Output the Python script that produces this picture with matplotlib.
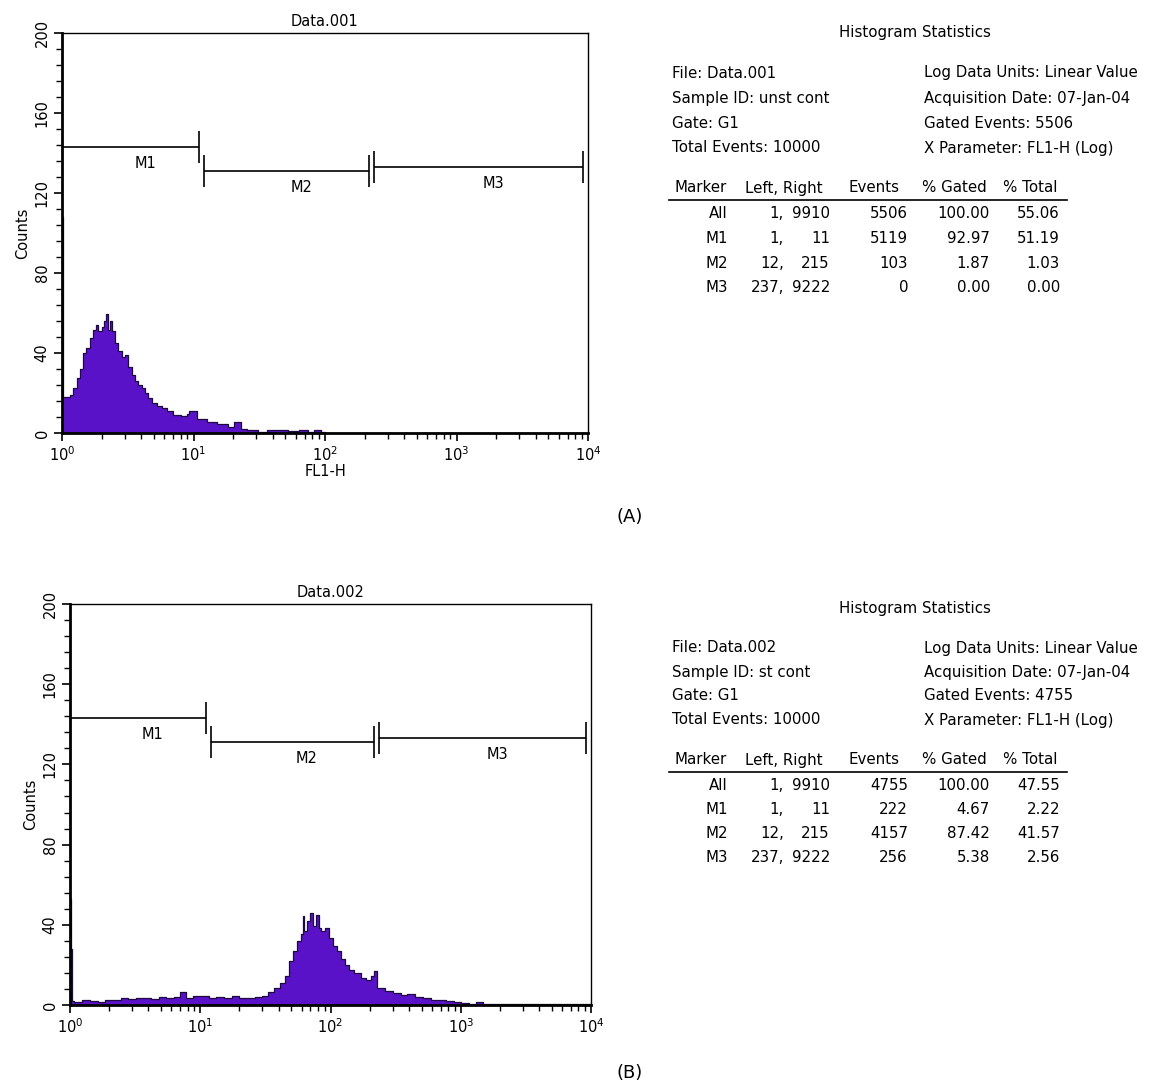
import numpy as np
import matplotlib
matplotlib.use("Agg")
import matplotlib.pyplot as plt
from matplotlib.ticker import MultipleLocator, LogLocator, LogFormatterMathtext, NullFormatter

plt.rcParams['font.family'] = ['DejaVu Sans']
plt.rcParams['mathtext.default'] = 'regular'

# ---- histogram A (unst cont), FL1-H values and counts ----
fl1_a = [1.0, 1.02, 1.05, 1.15, 1.22, 1.29, 1.37, 1.45, 1.52, 1.63, 1.73, 1.82, 1.89,
         2.00, 2.08, 2.16, 2.22, 2.32, 2.42, 2.53, 2.68, 2.84, 3.01, 3.19, 3.39, 3.59,
         3.80, 4.04, 4.28, 4.53, 4.81, 5.25, 5.73, 6.25, 7.01, 8.0, 8.89, 9.3, 10.7,
         12.6, 15.1, 18.2, 20.4, 22.9, 25.7, 30.9, 36.3, 43.7, 52.5, 63.1, 74.1, 83.2,
         93.3, 100, 10000]
counts_a = [108, 18, 18, 19, 22.5, 27.5, 32, 40, 42.5, 47.5, 51.7, 54, 51,
            53, 56, 59.7, 51.7, 56, 51, 45, 41, 38, 39, 33, 29, 26,
            24, 22.5, 20, 17.5, 15, 13.3, 12.5, 11, 9, 8.5, 9.7, 11, 7,
            5.5, 4.3, 3, 5.5, 2.2, 1.3, 0.5, 1.7, 1.3, 1, 1.3, 0.5, 1.7,
            0.3, 0, 0]

# ---- histogram B (st cont) ----
fl1_b = [1.0, 1.015, 1.03, 1.08, 1.24, 1.42, 1.63, 1.86, 2.14, 2.45, 2.80, 3.21, 3.67,
         4.21, 4.79, 5.50, 6.31, 6.98, 7.73, 8.85, 10.1, 11.6, 13.3, 15.1, 17.4, 20.0,
         22.9, 26.3, 29.9, 33.1, 36.7, 40.7, 45.0, 47.9, 51.3, 55.0, 58.9, 61.0, 63.1,
         66.1, 69.8, 73.3, 77.6, 81.3, 85.1, 91.2, 97.7, 105, 112, 120, 129, 138, 151,
         170, 186, 204, 214, 229, 263, 302, 347, 389, 447, 513, 589, 676, 776, 891,
         1000, 1148, 1318, 1479, 10000]
counts_b = [53, 28, 2, 1.7, 2.5, 2, 1.7, 2.3, 2.7, 3.4, 3, 3.4, 3.7,
            3, 4, 3.4, 4, 6.4, 3.4, 4.4, 4.7, 3.4, 4, 3.4, 4.4, 3.7,
            3.4, 4.2, 4.7, 6.7, 8.7, 10.9, 14.3, 21.8, 26.8, 31.9, 35.6, 44.5, 36.9,
            42, 46, 39.4, 45, 38.6, 36.9, 38.6, 33.6, 29.4, 26.8, 22.7, 20, 17.6, 16,
            13.4, 12.6, 14.3, 16.8, 8.4, 7, 5.9, 5, 5.4, 4.2, 3.4, 2.7, 2.3, 2, 1.7,
            1, 0.7, 1.7, 0.3, 0]

# ---- markers ----
marker_names = ['M1', 'M2', 'M3']
marker_left = [1, 12, 237]
marker_right = [11, 215, 9222]
marker_level = [143, 131, 133]

# ---- statistics tables ----
stat_headers = ['Marker', 'Left, Right', 'Events', '% Gated', '% Total']
row_names = ['All', 'M1', 'M2', 'M3']
row_left = ['1,', '1,', '12,', '237,']
row_right = ['9910', '11', '215', '9222']
events_a = ['5506', '5119', '103', '0']
gated_a = ['100.00', '92.97', '1.87', '0.00']
total_a = ['55.06', '51.19', '1.03', '0.00']
events_b = ['4755', '222', '4157', '256']
gated_b = ['100.00', '4.67', '87.42', '5.38']
total_b = ['47.55', '2.22', '41.57', '2.56']

info_a = [('File: Data.001', 'Log Data Units: Linear Value'),
          ('Sample ID: unst cont', 'Acquisition Date: 07-Jan-04'),
          ('Gate: G1', 'Gated Events: 5506'),
          ('Total Events: 10000', 'X Parameter: FL1-H (Log)')]
info_b = [('File: Data.002', 'Log Data Units: Linear Value'),
          ('Sample ID: st cont', 'Acquisition Date: 07-Jan-04'),
          ('Gate: G1', 'Gated Events: 4755'),
          ('Total Events: 10000', 'X Parameter: FL1-H (Log)')]

W, H = 1153, 1090
fig = plt.figure(figsize=(W / 100, H / 100), dpi=100)
FS = 10.5
FS_STAT = 10.8
PURPLE = '#5a12c8'


def px(x, y):
    return x / W, 1 - y / H


def add_hist(rect, xs, ys, title, xlabel):
    l, t, r, b = rect
    ax = fig.add_axes([l / W, 1 - b / H, (r - l) / W, (b - t) / H])
    ax.set_xscale('log')
    ax.set_xlim(1, 10000)
    ax.set_ylim(0, 200)
    ax.fill_between(xs, ys, step='post', color=PURPLE, lw=0)
    ax.step(xs, ys, where='post', color='#1c0a40', lw=0.9)
    # markers
    for name, lo, hi, lev in zip(marker_names, marker_left, marker_right, marker_level):
        ax.hlines(lev, lo, hi, color='black', lw=1.2)
        ax.vlines([lo, hi], lev - 8, lev + 8, color='black', lw=1.2)
        ax.text(np.sqrt(lo * hi) * 1.3, lev - 8, name, ha='center', va='center', fontsize=FS)
    ax.yaxis.set_major_locator(MultipleLocator(40))
    ax.yaxis.set_minor_locator(MultipleLocator(8))
    ax.xaxis.set_major_locator(LogLocator(base=10, numticks=10))
    ax.xaxis.set_minor_locator(LogLocator(base=10, subs=np.arange(2, 10), numticks=10))
    ax.xaxis.set_major_formatter(LogFormatterMathtext())
    ax.xaxis.set_minor_formatter(NullFormatter())
    ax.tick_params(axis='both', which='major', direction='out', length=6, width=1.2,
                   labelsize=FS, pad=3)
    ax.tick_params(axis='both', which='minor', direction='out', length=4, width=1.0)
    for lab in ax.get_yticklabels():
        lab.set_rotation(90)
        lab.set_va('center')
    ax.spines['left'].set_linewidth(2)
    ax.spines['bottom'].set_linewidth(2)
    ax.spines['top'].set_linewidth(1)
    ax.spines['right'].set_linewidth(1)
    ax.set_title(title, fontsize=FS, pad=5)
    ax.set_ylabel('Counts', fontsize=FS, labelpad=3)
    if xlabel:
        ax.set_xlabel(xlabel, fontsize=FS, labelpad=0)
    return ax


def add_stats(y0, info, events, gated, total, step):
    fig.text(*px(915, y0), 'Histogram Statistics', ha='center', va='center', fontsize=FS_STAT)
    yl = y0 + 40
    for i, (a, b) in enumerate(info):
        fig.text(*px(672, yl + i * step), a, ha='left', va='center', fontsize=FS_STAT)
        fig.text(*px(924, yl + i * step), b, ha='left', va='center', fontsize=FS_STAT)
    yh = yl + 3 * step + 40
    for txt, x in zip(stat_headers, [674, 745, 848, 922, 1003]):
        fig.text(*px(x, yh), txt, ha='left', va='center', fontsize=FS_STAT)
    fig.add_artist(plt.Line2D([669 / W, 1067 / W], [1 - (yh + 12) / H] * 2,
                              color='black', lw=1.2))
    for i in range(4):
        yr = yh + 25 + i * step
        fig.text(*px(728, yr), row_names[i], ha='right', va='center', fontsize=FS_STAT)
        fig.text(*px(784, yr), row_left[i], ha='right', va='center', fontsize=FS_STAT)
        fig.text(*px(830, yr), row_right[i], ha='right', va='center', fontsize=FS_STAT)
        fig.text(*px(908, yr), events[i], ha='right', va='center', fontsize=FS_STAT)
        fig.text(*px(990, yr), gated[i], ha='right', va='center', fontsize=FS_STAT)
        fig.text(*px(1060, yr), total[i], ha='right', va='center', fontsize=FS_STAT)


add_hist((62, 33, 588, 433), fl1_a, counts_a, 'Data.001', 'FL1-H')
add_hist((70, 604, 591, 1005), fl1_b, counts_b, 'Data.002', None)

add_stats(33, info_a, events_a, gated_a, total_a, 25)
add_stats(608, info_b, events_b, gated_b, total_b, 24)

fig.text(*px(630, 517), '(A)', ha='center', va='center', fontsize=13)
fig.text(*px(630, 1073), '(B)', ha='center', va='center', fontsize=13)

fig.savefig('out.png', dpi=100)
